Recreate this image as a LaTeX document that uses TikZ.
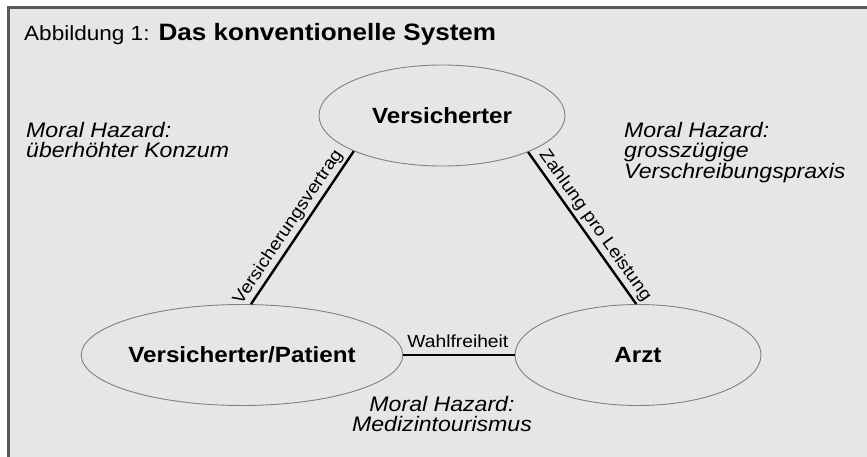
\documentclass[tikz,border=0pt]{standalone}
\usepackage{fontspec}
\setmainfont{Liberation Sans}[FakeStretch=1.1]
\usetikzlibrary{shapes.geometric}
\definecolor{bgfill}{HTML}{E6E6E6}
\definecolor{framecol}{HTML}{5A5A5A}
\definecolor{ellcol}{HTML}{808080}
\begin{document}
\begin{tikzpicture}[x=1pt,y=-1pt,
  party/.style={ellipse, draw=ellcol, line width=0.9pt, minimum width=246pt, minimum height=101pt, inner sep=0pt, font=\fontsize{22}{24}\selectfont\bfseries},
  link/.style={line width=2.4pt, black},
  linklabel/.style={font=\fontsize{17.5}{19}\selectfont, inner sep=2.5pt},
  hazard/.style={font=\fontsize{21}{20.5}\selectfont\itshape, inner sep=0pt}
]
\useasboundingbox (0,0) rectangle (867,457);
\fill[bgfill] (8,8) rectangle (867,457);
\draw[framecol, line width=3pt] (8,457) -- (8,8) -- (867,8);

\node[anchor=base west, inner sep=0pt] (title) at (24,41)
  {{\fontsize{20.5}{24}\selectfont Abbildung 1:}\hspace{9pt}{\fontsize{23.7}{24}\selectfont\bfseries Das konventionelle System}};

\node[party] (vers) at (442,115.5) {Versicherter};
\node[party] (pat) at (242,355) {Versicherter/Patient};
\node[party] (arzt) at (638,355) {Arzt};

\draw[link] (pat.80) -- node[linklabel, sloped, above, pos=0.46] {Versicherungsvertrag} (vers.202);
\draw[link] (vers.337.5) -- node[linklabel, sloped, above, pos=0.53] {Zahlung pro Leistung} (arzt.92);
\draw[link] (pat.east) -- node[linklabel, above, inner sep=6pt, xshift=-1pt] {Wahlfreiheit} (arzt.west);

\node[hazard, align=left, anchor=north west] (mhl) at (26,122) {Moral Hazard:\\überhöhter Konzum};
\node[hazard, align=left, anchor=north west] (mhr) at (624,122) {Moral Hazard:\\grosszügige\\Verschreibungspraxis};
\node[hazard, align=center, anchor=north] (mhb) at (442,396) {Moral Hazard:\\Medizintourismus};
\end{tikzpicture}
\end{document}
